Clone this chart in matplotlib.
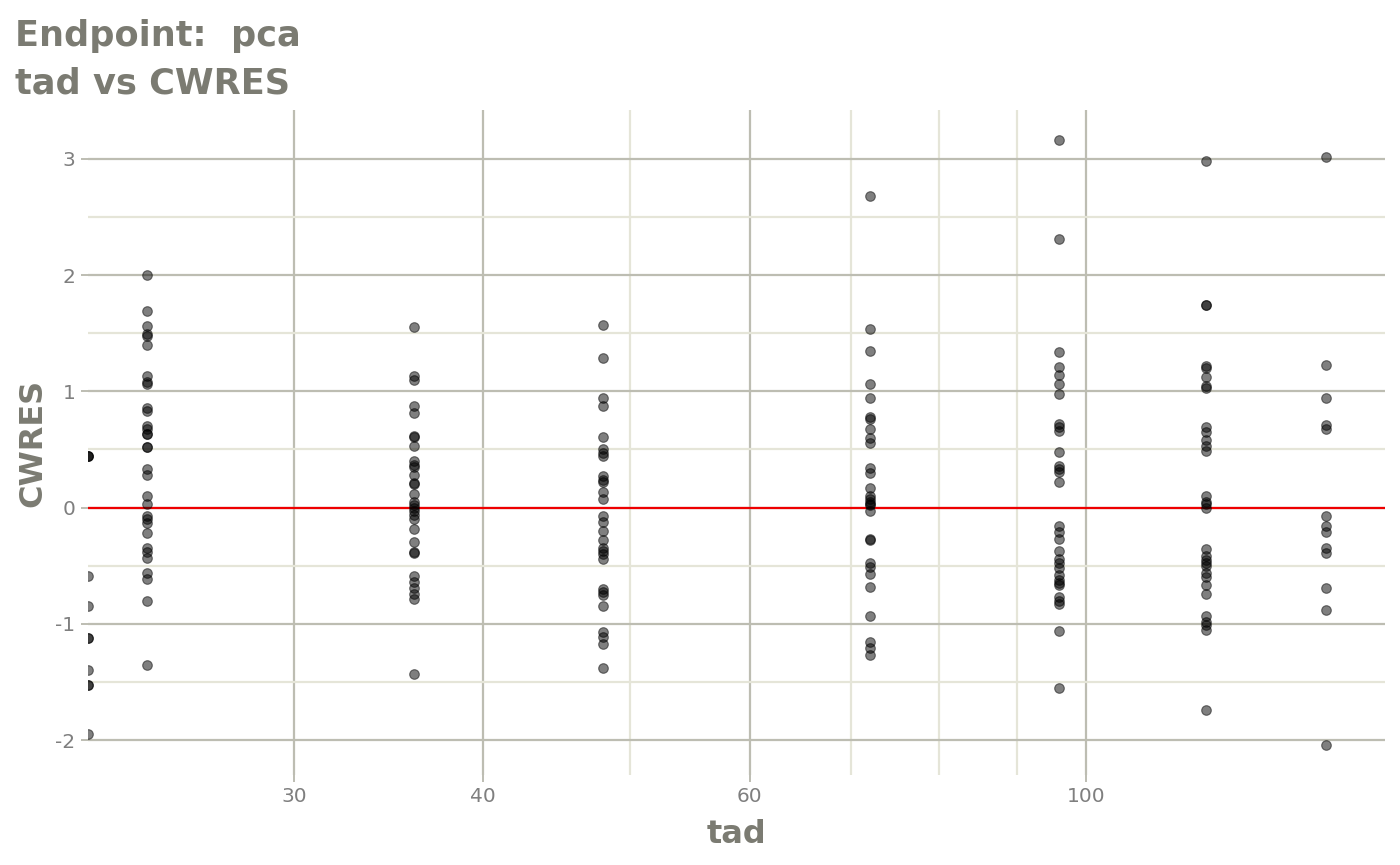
import numpy as np
import matplotlib
matplotlib.use("Agg")
import matplotlib.pyplot as plt
from matplotlib.ticker import FixedLocator, NullFormatter

# time after dose groups and the CWRES read at each
tad_groups = [0, 24, 36, 48, 72, 96, 120, 144]
cwres_groups = [
    [0.44, 0.44, 0.44, -0.59, -0.85, -1.12, -1.12, -1.40, -1.53, -1.53, -1.95],
    [2.00, 1.69, 1.56, 1.49, 1.48, 1.40, 1.13, 1.08, 1.06, 0.86, 0.83, 0.70, 0.68,
     0.63, 0.63, 0.52, 0.52, 0.33, 0.28, 0.10, 0.03, -0.07, -0.10, -0.13, -0.22,
     -0.35, -0.38, -0.43, -0.56, -0.61, -0.80, -1.35],
    [1.55, 1.13, 1.10, 0.87, 0.81, 0.62, 0.61, 0.53, 0.40, 0.37, 0.35, 0.28, 0.21,
     0.20, 0.12, 0.05, 0.02, 0.00, -0.03, -0.06, -0.10, -0.18, -0.30, -0.38, -0.39,
     -0.59, -0.64, -0.69, -0.74, -0.79, -1.43],
    [1.57, 1.29, 0.94, 0.87, 0.61, 0.50, 0.47, 0.44, 0.27, 0.24, 0.22, 0.13, 0.07,
     -0.07, -0.12, -0.20, -0.28, -0.35, -0.37, -0.40, -0.44, -0.70, -0.73, -0.75,
     -0.85, -1.07, -1.11, -1.17, -1.38],
    [2.68, 1.54, 1.35, 1.06, 0.94, 0.78, 0.76, 0.68, 0.60, 0.56, 0.34, 0.30, 0.17,
     0.10, 0.07, 0.05, 0.03, 0.02, -0.03, -0.27, -0.28, -0.48, -0.51, -0.57, -0.68,
     -0.93, -1.16, -1.21, -1.27],
    [3.16, 2.31, 1.34, 1.21, 1.14, 1.06, 0.98, 0.72, 0.69, 0.66, 0.48, 0.36, 0.33,
     0.31, 0.22, -0.16, -0.21, -0.27, -0.37, -0.44, -0.48, -0.52, -0.58, -0.62,
     -0.65, -0.67, -0.77, -0.80, -0.83, -1.06, -1.55],
    [2.98, 1.74, 1.74, 1.22, 1.20, 1.12, 1.05, 1.03, 0.69, 0.65, 0.58, 0.53, 0.49,
     0.10, 0.05, 0.03, 0.00, -0.36, -0.42, -0.45, -0.48, -0.50, -0.56, -0.60,
     -0.67, -0.74, -0.93, -0.98, -1.01, -1.05, -1.74],
    [3.02, 1.23, 0.94, 0.71, 0.68, -0.07, -0.16, -0.21, -0.35, -0.39, -0.69, -0.88,
     -2.04],
]
x_major = [30, 40, 60, 100]
x_minor = [50, 70, 80, 90]
y_major = [-2, -1, 0, 1, 2, 3]
y_minor = [-1.5, -0.5, 0.5, 1.5, 2.5]

tad = np.concatenate([[t] * len(c) for t, c in zip(tad_groups, cwres_groups)])
cwres = np.concatenate(cwres_groups)

# ggplot style 5% expansion on log scale, from the positive tad values
pos = np.log10(tad[tad > 0])
span = pos.max() - pos.min()
xlim = (10 ** (pos.min() - 0.05 * span), 10 ** (pos.max() + 0.05 * span))
yspan = cwres.max() - cwres.min()
ylim = (cwres.min() - 0.05 * yspan, cwres.max() + 0.05 * yspan)

# tad = 0 is -Inf on a log scale: drawn on the panel edge
tad_plot = np.where(tad > 0, tad, xlim[0])

title_col = "#7b7b72"
tick_col = "#7f7f7f"
major_col = "#bdbdb2"
minor_col = "#e5e5d8"

fig = plt.figure(figsize=(14, 8.65), dpi=100)
ax = fig.add_axes([88 / 1400, 1 - 775 / 865, (1385 - 88) / 1400, (775 - 110) / 865])
ax.set_xscale("log")
ax.set_xlim(xlim)
ax.set_ylim(ylim)

ax.xaxis.set_major_locator(FixedLocator(x_major))
ax.xaxis.set_minor_locator(FixedLocator(x_minor))
ax.set_xticklabels([str(v) for v in x_major])
ax.xaxis.set_minor_formatter(NullFormatter())
ax.yaxis.set_major_locator(FixedLocator(y_major))
ax.yaxis.set_minor_locator(FixedLocator(y_minor))
ax.set_yticklabels([str(v) for v in y_major])

ax.grid(which="major", color=major_col, linewidth=1.6)
ax.grid(which="minor", color=minor_col, linewidth=1.6)
ax.set_axisbelow(True)
for s in ax.spines.values():
    s.set_visible(False)
ax.tick_params(which="major", length=5, width=1.4, color=major_col,
               labelcolor=tick_col, labelsize=14.5, pad=4)
ax.tick_params(which="minor", length=0)

ax.axhline(0, color="#ee0000", linewidth=1.6, zorder=2)
ax.scatter(tad_plot, cwres, s=48, color="black", alpha=0.5,
           edgecolors="black", linewidths=0.8, zorder=3)

ax.set_xlabel("tad", fontsize=23, fontweight="bold", color=title_col, labelpad=9)
ax.set_ylabel("CWRES", fontsize=23, fontweight="bold", color=title_col, labelpad=5)

fig.text(15 / 1400, 1 - 46 / 865, "Endpoint:  pca", fontsize=25.3,
         fontweight="bold", color=title_col, va="baseline")
fig.text(15 / 1400, 1 - 93 / 865, "tad vs CWRES", fontsize=25.3,
         fontweight="bold", color=title_col, va="baseline")

fig.savefig("out.png", dpi=100)
